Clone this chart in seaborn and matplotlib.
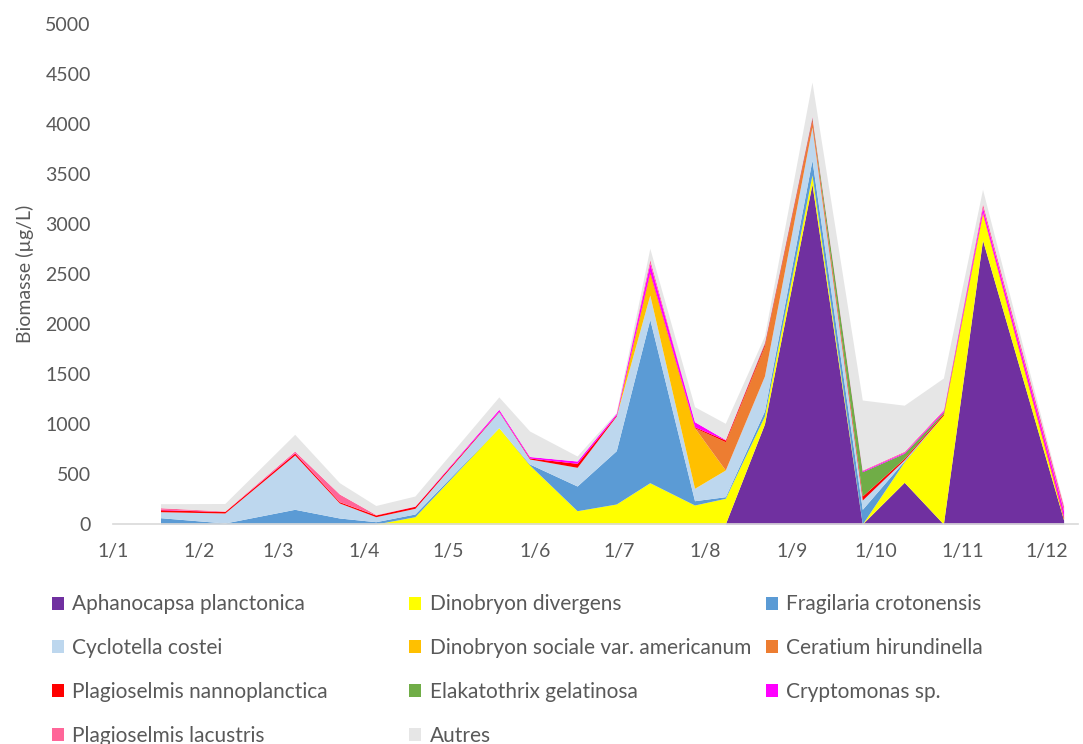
import pandas as pd
import seaborn as sns
import matplotlib.pyplot as plt
import matplotlib.dates as mdates
from matplotlib.patches import Patch

# sampling dates
dates = ["2023-01-18", "2023-02-10", "2023-03-07", "2023-03-23", "2023-04-05",
         "2023-04-19", "2023-05-19", "2023-05-30", "2023-06-16", "2023-06-30",
         "2023-07-12", "2023-07-28", "2023-08-08", "2023-08-22", "2023-09-08",
         "2023-09-26", "2023-10-11", "2023-10-25", "2023-11-08", "2023-12-07"]

# biomass per taxon (ug/L)
aphanocapsa = [0, 0, 0, 0, 0, 0, 0, 0, 0, 0, 0, 0, 0, 1000, 3400, 0, 417, 0, 2840, 40]
dino_div = [0, 0, 0, 0, 0, 73, 963, 590, 133, 200, 413, 190, 257, 80, 90, 0, 206, 1090, 267, 10]
fragilaria = [63, 10, 147, 60, 23, 27, 0, 10, 247, 533, 1634, 43, 16, 50, 150, 147, 10, 0, 0, 0]
cyclotella = [60, 100, 543, 150, 50, 57, 160, 50, 187, 347, 243, 124, 267, 350, 330, 93, 10, 0, 0, 0]
dino_soc = [0, 0, 0, 0, 0, 0, 0, 0, 0, 0, 217, 606, 0, 0, 0, 0, 0, 0, 0, 0]
ceratium = [0, 0, 0, 0, 0, 0, 0, 0, 0, 0, 0, 0, 283, 300, 60, 0, 0, 0, 0, 0]
plag_nanno = [20, 15, 20, 13, 17, 20, 5, 10, 40, 10, 15, 10, 17, 20, 20, 40, 15, 15, 10, 20]
elakatothrix = [0, 0, 0, 0, 0, 0, 0, 0, 0, 0, 0, 0, 0, 10, 15, 243, 50, 15, 0, 0]
cryptomonas = [5, 0, 5, 0, 0, 3, 20, 15, 23, 17, 85, 50, 5, 5, 5, 10, 10, 15, 50, 60]
plag_lac = [15, 5, 15, 77, 5, 0, 0, 0, 0, 0, 40, 0, 0, 5, 10, 7, 10, 10, 40, 50]
autres = [40, 75, 167, 113, 90, 100, 123, 255, 50, 10, 110, 150, 162, 60, 340, 700, 460, 315, 140, 10]

labels = ["Aphanocapsa planctonica", "Dinobryon divergens", "Fragilaria crotonensis",
          "Cyclotella costei", "Dinobryon sociale var. americanum", "Ceratium hirundinella",
          "Plagioselmis nannoplanctica", "Elakatothrix gelatinosa", "Cryptomonas sp.",
          "Plagioselmis lacustris", "Autres"]
colors = ["#7030A0", "#FFFF00", "#5B9BD5", "#BDD7EE", "#FFC000", "#ED7D31",
          "#FF0000", "#70AD47", "#FF00FF", "#FF6699", "#E6E6E6"]

series = [aphanocapsa, dino_div, fragilaria, cyclotella, dino_soc, ceratium,
          plag_nanno, elakatothrix, cryptomonas, plag_lac, autres]
df = pd.DataFrame(dict(zip(labels, series)), index=pd.to_datetime(dates))

sns.set_theme(style="white")
plt.rcParams['font.family'] = ['Lato', 'DejaVu Sans']

grey_txt = "#595959"
fig = plt.figure(figsize=(10.83, 7.44), dpi=100)
ax = fig.add_axes([0.1043, 0.2957, 0.8907, 0.672])

ax.stackplot(df.index, [df[c].values for c in labels], colors=colors, linewidth=0)

ax.set_ylim(0, 5000)
ax.set_yticks(range(0, 5001, 500))
ax.set_xlim(pd.Timestamp("2023-01-01"), pd.Timestamp("2023-12-12"))
ax.xaxis.set_major_locator(mdates.MonthLocator())
ax.xaxis.set_major_formatter(plt.FuncFormatter(
    lambda v, p: "1/%d" % mdates.num2date(v).month))

sns.despine(ax=ax, left=True, top=True, right=True)
ax.spines["bottom"].set_color("#D9D9D9")
ax.spines["bottom"].set_linewidth(1.2)
ax.tick_params(axis="x", colors="#D9D9D9", length=7, width=1.2, direction="out",
               labelcolor=grey_txt, labelsize=14, pad=7)
ax.tick_params(axis="y", length=0, labelcolor=grey_txt, labelsize=14, pad=16)
ax.set_ylabel("Biomasse (µg/L)", color=grey_txt, fontsize=14, labelpad=8)

# legend: three columns filled row by row
col_x = [0.048, 0.378, 0.707]
for ci in range(3):
    idx = list(range(ci, len(labels), 3))
    handles = [Patch(facecolor=colors[i], edgecolor="none") for i in idx]
    fig.legend(handles, [labels[i] for i in idx], loc="upper left",
               bbox_to_anchor=(col_x[ci], 0.201), frameon=False, fontsize=15,
               labelcolor=grey_txt, handlelength=0.58, handleheight=0.58,
               handletextpad=0.4, labelspacing=1.14, borderaxespad=0,
               borderpad=0)

fig.savefig("out.png", dpi=100)
